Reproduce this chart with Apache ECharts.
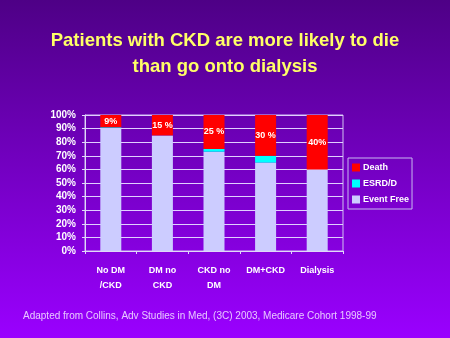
<!DOCTYPE html>
<html><head><meta charset="utf-8">
<script src="https://cdn.jsdelivr.net/npm/echarts@6/dist/echarts.min.js"></script>
<style>html,body{margin:0;padding:0;}#c{width:450px;height:338px;}</style>
</head><body><div id="c"></div>
<script>
const categories = ['No DM\n/CKD', 'DM no\nCKD', 'CKD no\nDM', 'DM+CKD', 'Dialysis'];
const eventFree = [90.5, 85, 73, 65, 60];
const esrd = [0.5, 0, 2, 5, 0];
const death = [9, 15, 25, 30, 40];
const deathLabels = ['9%', '15 %', '25 %', '30 %', '40%'];
const seriesNames = ['Death', 'ESRD/D', 'Event Free'];

const chart = echarts.init(document.getElementById('c'), null, {renderer: 'canvas'});
const font = 'Arial, "Liberation Sans", sans-serif';
chart.setOption({
  animation: false,
  backgroundColor: new echarts.graphic.LinearGradient(0, 0, 0, 1, [
    {offset: 0, color: '#4E0086'}, {offset: 1, color: '#9A00FF'}
  ]),
  title: {
    text: 'Patients with CKD are more likely to die\nthan go onto dialysis',
    left: 'center', top: 23,
    textStyle: {color: '#FFFF66', fontSize: 18.5, fontWeight: 'bold', fontFamily: font, lineHeight: 26}
  },
  legend: {
    orient: 'vertical', left: 348, top: 158,
    data: seriesNames,
    itemWidth: 8, itemHeight: 8, itemGap: 7,
    padding: [5, 3, 5, 4],
    borderColor: '#C8B8F0', borderWidth: 1,
    textStyle: {color: '#FFFFFF', fontSize: 9, fontFamily: font, fontWeight: 'bold', padding: [0, 0, 0, -2]},
    icon: 'rect'
  },
  grid: {left: 85, right: 107, top: 115, bottom: 87, show: true, borderColor: '#D0C0F0', borderWidth: 1},
  xAxis: {
    type: 'category', data: categories,
    axisLine: {lineStyle: {color: '#E0D8F8'}},
    axisTick: {show: true, length: 3, lineStyle: {color: '#E0D8F8'}},
    axisLabel: {color: '#FFFFFF', fontSize: 9, fontWeight: 'bold', fontFamily: font, margin: 12, lineHeight: 15, interval: 0}
  },
  yAxis: {
    type: 'value', min: 0, max: 100, interval: 10,
    axisLine: {show: true, lineStyle: {color: '#E0D8F8'}},
    axisTick: {show: true, length: 3, lineStyle: {color: '#E0D8F8'}},
    axisLabel: {color: '#FFFFFF', fontSize: 10, fontWeight: 'bold', fontFamily: font, margin: 9, formatter: '{value}%'},
    splitLine: {lineStyle: {color: '#E0D0FF', width: 1}}
  },
  series: [
    {name: 'Event Free', type: 'bar', stack: 's', data: eventFree, barWidth: 21,
      itemStyle: {color: '#CCCCFF'}},
    {name: 'ESRD/D', type: 'bar', stack: 's', data: esrd, barWidth: 21,
      itemStyle: {color: '#00FFFF'}},
    {name: 'Death', type: 'bar', stack: 's', data: death, barWidth: 21,
      itemStyle: {color: '#FF0000'},
      label: {show: true, position: 'inside', color: '#FFFFFF', fontSize: 9, fontWeight: 'bold', fontFamily: font,
        formatter: p => deathLabels[p.dataIndex]}}
  ],
  graphic: [{
    type: 'text', left: 23, top: 311,
    style: {text: 'Adapted from Collins, Adv Studies in Med, (3C) 2003, Medicare Cohort 1998-99',
      fill: '#E8C8FF', fontSize: 10, fontFamily: font}
  }]
});
</script></body></html>
